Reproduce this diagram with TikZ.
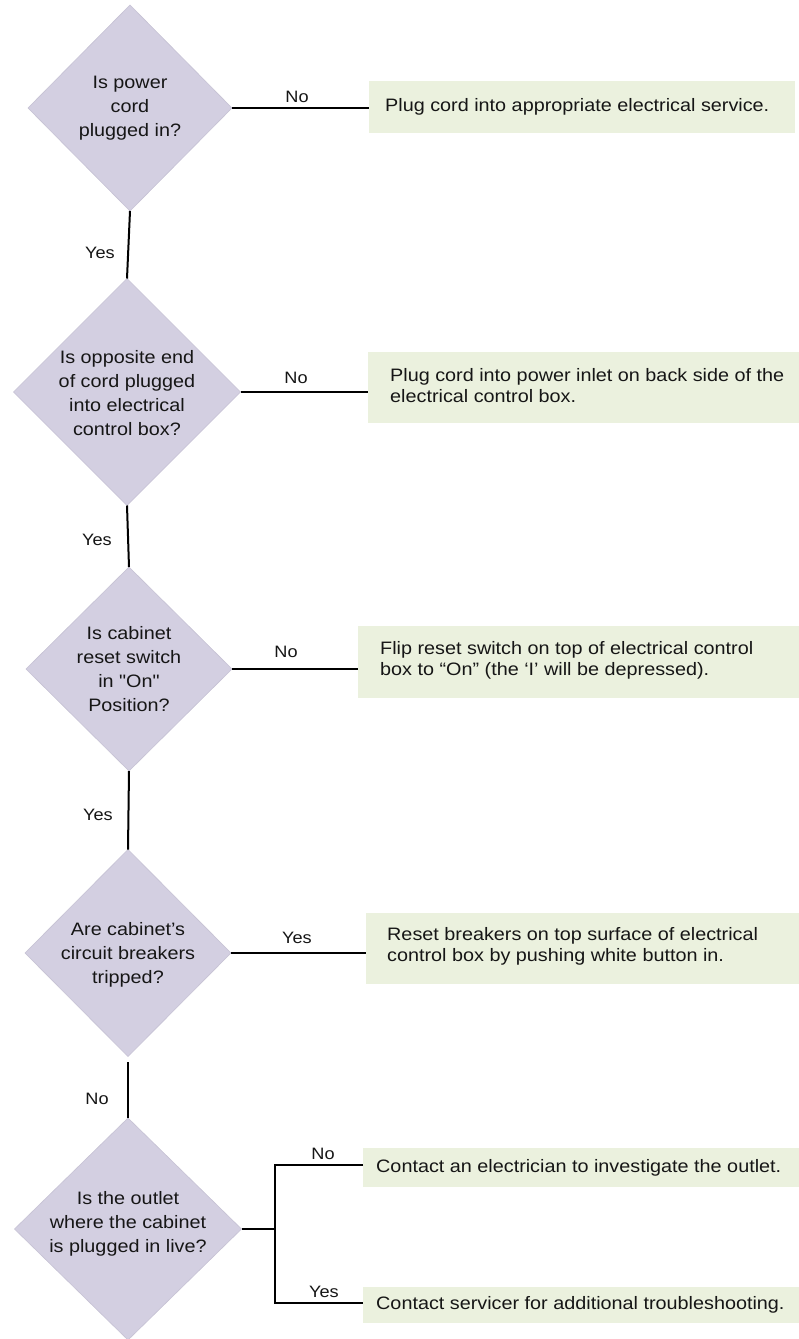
\documentclass[tikz,border=0pt]{standalone}
\usepackage{fontspec}
\setmainfont{Liberation Sans}[FakeStretch=1.1, Ligatures=TeXOff]
\usetikzlibrary{shapes.geometric}
\definecolor{diafill}{HTML}{D3CFE1}
\definecolor{diaedge}{HTML}{C6C2D4}
\definecolor{boxfill}{HTML}{EBF1DE}
\definecolor{txt}{HTML}{161616}
\tikzset{
  dia/.style={diamond, fill=diafill, draw=diaedge, line width=0.6pt, inner sep=0pt, outer sep=0pt},
  diatext/.style={align=center, text=txt, font=\fontsize{18}{24}\selectfont, inner sep=0pt},
  actbox/.style={rectangle, fill=boxfill, anchor=north west, inner sep=0pt, outer sep=0pt},
  acttext/.style={anchor=west, align=left, text=txt, font=\fontsize{18}{21}\selectfont, inner sep=0pt},
  conn/.style={line width=2pt, draw=black},
  lbl/.style={text=txt, font=\fontsize{16.5}{18}\selectfont, inner sep=0pt}
}
\begin{document}
\begin{tikzpicture}[x=1pt, y=-1pt]
\useasboundingbox (0,0) rectangle (799,1339);
\fill[white] (0,0) rectangle (799,1339);

% diamonds
\node[dia, minimum width=204pt, minimum height=206pt] (d1) at (130,108) {};
\node[diatext] (q1) at (130,108) {Is power\\cord\\plugged in?};

\node[dia, minimum width=227pt, minimum height=227pt] (d2) at (127,392) {};
\node[diatext] (q2) at (127,393) {Is opposite end\\of cord plugged\\into electrical\\control box?};

\node[dia, minimum width=206pt, minimum height=204pt] (d3) at (129,669) {};
\node[diatext] (q3) at (129,669) {Is cabinet\\reset switch\\in "On"\\Position?};

\node[dia, minimum width=206pt, minimum height=207pt] (d4) at (128,953) {};
\node[diatext] (q4) at (128,955) {Are cabinet’s\\circuit breakers\\tripped?};

\node[dia, minimum width=227pt, minimum height=222pt] (d5) at (128,1229) {};
\node[diatext] (q5) at (128,1224) {Is the outlet\\where the cabinet\\is plugged in live?};

% action boxes
\node[actbox, minimum width=426pt, minimum height=52pt] (b1) at (369,81) {};
\node[acttext] (a1) at ([xshift=16pt]b1.west) {Plug cord into appropriate electrical service.};
\node[actbox, minimum width=431pt, minimum height=71pt] (b2) at (368,352) {};
\node[acttext] (a2) at ([xshift=22pt,yshift=2pt]b2.west) {Plug cord into power inlet on back side of the\\electrical control box.};
\node[actbox, minimum width=441pt, minimum height=72pt] (b3) at (358,626) {};
\node[acttext] (a3) at ([xshift=22pt,yshift=2pt]b3.west) {Flip reset switch on top of electrical control\\box to “On” (the ‘I’ will be depressed).};
\node[actbox, minimum width=433pt, minimum height=71pt] (b4) at (366,913) {};
\node[acttext] (a4) at ([xshift=21pt,yshift=2pt]b4.west) {Reset breakers on top surface of electrical\\control box by pushing white button in.};
\node[actbox, minimum width=436pt, minimum height=39pt] (b5) at (363,1148) {};
\node[acttext] (a5) at ([xshift=13pt]b5.west) {Contact an electrician to investigate the outlet.};
\node[actbox, minimum width=436pt, minimum height=36pt] (b6) at (363,1287) {};
\node[acttext] (a6) at ([xshift=13pt]b6.west) {Contact servicer for additional troubleshooting.};

% horizontal connectors
\draw[conn] (d1.east) -- (d1.east -| b1.west);
\draw[conn] (d2.east) -- (d2.east -| b2.west);
\draw[conn] (d3.east) -- (d3.east -| b3.west);
\draw[conn] (d4.east) -- (d4.east -| b4.west);
\node[lbl] (l1) at (297,97) {No};
\node[lbl] (l2) at (296,378) {No};
\node[lbl] (l3) at (286,652) {No};
\node[lbl] (l4) at (297,938) {Yes};

% vertical connectors
\draw[conn] (d1.south) -- (d2.north);
\draw[conn] (d2.south) -- (d3.north);
\draw[conn] (d3.south) -- (d4.north);
\coordinate (n4top) at (128,1062);
\draw[conn] (n4top) -- (d5.north);
\node[lbl] (l5) at (100,253) {Yes};
\node[lbl] (l6) at (97,540) {Yes};
\node[lbl] (l7) at (98,815) {Yes};
\node[lbl] (l8) at (97,1099) {No};

% branch from last diamond
\coordinate (br) at (275,1229);
\coordinate (brt) at (275,1165);
\coordinate (brb) at (275,1303);
\draw[conn] (d5.east) -- (br);
\draw[conn, line join=miter] (b5.west |- brt) -- (brt) -- (brb) -- (b6.west |- brb);
\node[lbl] (l9) at (323,1154) {No};
\node[lbl] (l10) at (324,1292) {Yes};
\end{tikzpicture}
\end{document}
